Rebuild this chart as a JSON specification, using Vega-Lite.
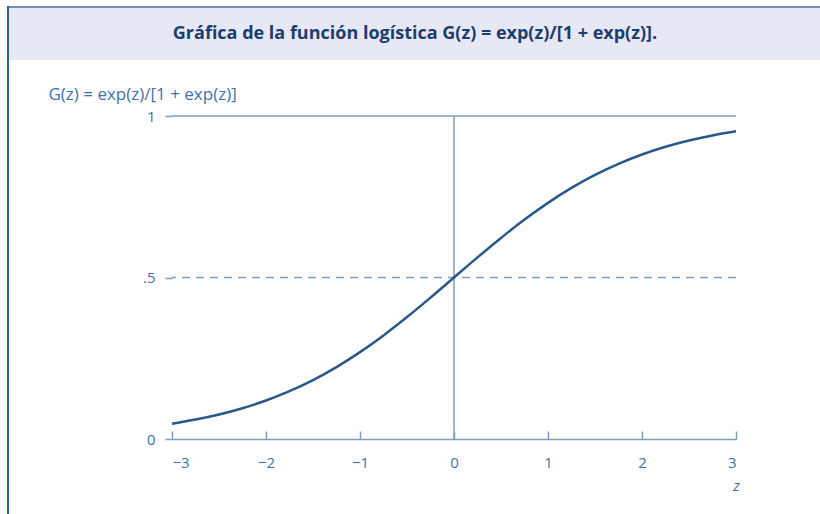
{
  "$schema": "https://vega.github.io/schema/vega-lite/v6.json",
  "padding": {"left": 7, "top": 6, "right": 0, "bottom": 0},
  "background": "white",
  "config": {"view": {"stroke": null}, "font": "Open Sans"},
  "datasets": {
    "curve": [
      {"z": -3.0, "G": 0.0474}, {"z": -2.75, "G": 0.0601}, {"z": -2.5, "G": 0.0759},
      {"z": -2.25, "G": 0.0953}, {"z": -2.0, "G": 0.1192}, {"z": -1.75, "G": 0.1480},
      {"z": -1.5, "G": 0.1824}, {"z": -1.25, "G": 0.2227}, {"z": -1.0, "G": 0.2689},
      {"z": -0.75, "G": 0.3208}, {"z": -0.5, "G": 0.3775}, {"z": -0.25, "G": 0.4378},
      {"z": 0.0, "G": 0.5}, {"z": 0.25, "G": 0.5622}, {"z": 0.5, "G": 0.6225},
      {"z": 0.75, "G": 0.6792}, {"z": 1.0, "G": 0.7311}, {"z": 1.25, "G": 0.7773},
      {"z": 1.5, "G": 0.8176}, {"z": 1.75, "G": 0.8520}, {"z": 2.0, "G": 0.8808},
      {"z": 2.25, "G": 0.9047}, {"z": 2.5, "G": 0.9241}, {"z": 2.75, "G": 0.9399},
      {"z": 3.0, "G": 0.9526}
    ],
    "heading": [{"t": "Gráfica de la función logística G(z) = exp(z)/[1 + exp(z)]."}],
    "one": [{"k": 1}]
  },
  "hconcat": [
    {
      "width": 2,
      "height": 520,
      "data": {"name": "one"},
      "mark": {"type": "rect", "color": "#2f5f9a"},
      "encoding": {}
    },
    {
      "spacing": 110,
      "bounds": "flush",
      "vconcat": [
        {
          "spacing": 0,
          "bounds": "flush",
          "vconcat": [
            {
              "width": 812,
              "height": 2,
              "data": {"name": "one"},
              "mark": {"type": "rect", "color": "#6f8fb8"},
              "encoding": {}
            },
            {
              "width": 812,
              "height": 52,
              "view": {"fill": "#e6e9f3", "stroke": null},
              "data": {"name": "heading"},
              "mark": {"type": "text", "font": "Open Sans", "fontWeight": "bold", "fontSize": 18, "color": "#1f3c6e", "align": "center", "baseline": "middle"},
              "encoding": {"text": {"field": "t"}}
            }
          ]
        },
        {
          "spacing": 13,
          "bounds": "flush",
          "hconcat": [
            {
              "width": 150,
              "height": 323,
              "data": {"name": "one"},
              "mark": {"type": "rect", "opacity": 0},
              "encoding": {}
            },
            {
              "width": 564,
              "height": 323,
              "layer": [
                {
                  "data": {"name": "one"},
                  "mark": {"type": "rule", "color": "#7b9cc2", "strokeWidth": 1.5},
                  "encoding": {"y": {"datum": 1, "type": "quantitative"}}
                },
                {
                  "data": {"name": "one"},
                  "mark": {"type": "rule", "color": "#7b9cc2", "strokeWidth": 1.5, "strokeDash": [8, 6]},
                  "encoding": {"y": {"datum": 0.5, "type": "quantitative"}}
                },
                {
                  "data": {"name": "one"},
                  "mark": {"type": "rule", "color": "#7b9cc2", "strokeWidth": 1.5},
                  "encoding": {"x": {"datum": 0, "type": "quantitative"}}
                },
                {
                  "data": {"name": "curve"},
                  "mark": {"type": "line", "color": "#2a5889", "strokeWidth": 2.5, "interpolate": "monotone"},
                  "encoding": {
                    "x": {
                      "field": "z", "type": "quantitative",
                      "scale": {"domain": [-3, 3], "nice": false, "zero": false},
                      "axis": {
                        "values": [-3, -2, -1, 0, 1, 2, 3],
                        "format": "d",
                        "grid": false,
                        "domainColor": "#7b9cc2", "domainWidth": 1.5,
                        "tickColor": "#7b9cc2", "tickWidth": 1.5, "tickSize": -8,
                        "labelPadding": 24, "labelFont": "Open Sans", "labelFontSize": 15, "labelColor": "#3f72aa",
                        "title": "z", "titleFont": "Open Sans", "titleFontStyle": "italic", "titleFontWeight": "normal",
                        "titleFontSize": 15, "titleColor": "#3f72aa",
                        "titleX": 564, "titleY": 46, "titleAlign": "center", "titleBaseline": "middle"
                      }
                    },
                    "y": {
                      "field": "G", "type": "quantitative",
                      "scale": {"domain": [0, 1], "nice": false},
                      "axis": {
                        "values": [0, 0.5, 1],
                        "labelExpr": "datum.value == 0.5 ? '.5' : format(datum.value, 'd')",
                        "grid": false, "domain": false,
                        "tickColor": "#7b9cc2", "tickWidth": 1.5, "tickSize": 7,
                        "labelPadding": 10, "labelFont": "Open Sans", "labelFontSize": 15, "labelColor": "#3f72aa",
                        "title": "G(z) = exp(z)/[1 + exp(z)]", "titleFont": "Open Sans", "titleFontWeight": "normal",
                        "titleFontSize": 17, "titleColor": "#3f72aa", "titleAngle": 0,
                        "titleX": -124, "titleY": -22, "titleAlign": "left", "titleBaseline": "middle"
                      }
                    }
                  }
                }
              ]
            }
          ]
        }
      ]
    }
  ],
  "spacing": 0
}
